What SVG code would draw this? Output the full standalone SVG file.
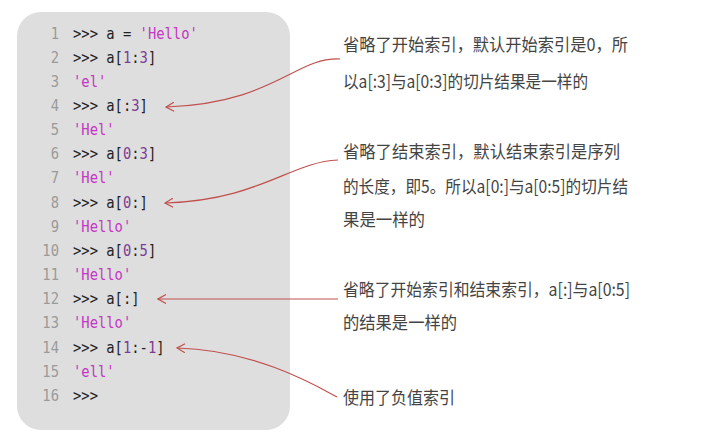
<svg xmlns="http://www.w3.org/2000/svg" width="726" height="440" viewBox="0 0 726 440">
<defs>
<style>
.code{font-family:"DejaVu Sans Mono","Liberation Mono",monospace;font-size:16px;fill:#222}
.ln{fill:#9a9a9a;text-anchor:end}
.s{fill:#c436c4}
.n{fill:#7a3d94}
.note{font-family:"Noto Sans CJK SC","Noto Sans",sans-serif;font-size:17.5px;fill:#444}
.conn{fill:none;stroke:#c0504d;stroke-width:1.2}
</style>
<marker id="arr" viewBox="0 0 10 10" refX="9" refY="5" markerWidth="10" markerHeight="10" markerUnits="userSpaceOnUse" orient="auto">
<path d="M1,0.5 L9,5 L1,9.5" fill="none" stroke="#c0504d" stroke-width="1.2"/>
</marker>
</defs>
<rect width="726" height="440" fill="#ffffff"/>
<g id="code-panel">
<rect x="17" y="12" width="273" height="418" rx="24" ry="24" fill="#dedede"/>
<g transform="matrix(0.865,0,0,1,0,0)">
<text class="code ln" x="68.2" y="39">1</text>
<text class="code" x="84.4" y="39">&gt;&gt;&gt; a = <tspan class="s">'Hello'</tspan></text>
<text class="code ln" x="68.2" y="63">2</text>
<text class="code" x="84.4" y="63">&gt;&gt;&gt; a[<tspan class="n">1</tspan>:<tspan class="n">3</tspan>]</text>
<text class="code ln" x="68.2" y="87">3</text>
<text class="code s" x="84.4" y="87">'el'</text>
<text class="code ln" x="68.2" y="111">4</text>
<text class="code" x="84.4" y="111">&gt;&gt;&gt; a[:<tspan class="n">3</tspan>]</text>
<text class="code ln" x="68.2" y="135">5</text>
<text class="code s" x="84.4" y="135">'Hel'</text>
<text class="code ln" x="68.2" y="159">6</text>
<text class="code" x="84.4" y="159">&gt;&gt;&gt; a[<tspan class="n">0</tspan>:<tspan class="n">3</tspan>]</text>
<text class="code ln" x="68.2" y="183">7</text>
<text class="code s" x="84.4" y="183">'Hel'</text>
<text class="code ln" x="68.2" y="208">8</text>
<text class="code" x="84.4" y="208">&gt;&gt;&gt; a[<tspan class="n">0</tspan>:]</text>
<text class="code ln" x="68.2" y="232">9</text>
<text class="code s" x="84.4" y="232">'Hello'</text>
<text class="code ln" x="68.2" y="256">10</text>
<text class="code" x="84.4" y="256">&gt;&gt;&gt; a[<tspan class="n">0</tspan>:<tspan class="n">5</tspan>]</text>
<text class="code ln" x="68.2" y="280">11</text>
<text class="code s" x="84.4" y="280">'Hello'</text>
<text class="code ln" x="68.2" y="304">12</text>
<text class="code" x="84.4" y="304">&gt;&gt;&gt; a[:]</text>
<text class="code ln" x="68.2" y="328">13</text>
<text class="code s" x="84.4" y="328">'Hello'</text>
<text class="code ln" x="68.2" y="353">14</text>
<text class="code" x="84.4" y="353">&gt;&gt;&gt; a[<tspan class="n">1</tspan>:-<tspan class="n">1</tspan>]</text>
<text class="code ln" x="68.2" y="377">15</text>
<text class="code s" x="84.4" y="377">'ell'</text>
<text class="code ln" x="68.2" y="401">16</text>
<text class="code" x="84.4" y="401">&gt;&gt;&gt;</text>
</g>
</g>
<g id="note1">
<text class="note" x="343" y="51" textLength="285" lengthAdjust="spacingAndGlyphs">省略了开始索引，默认开始索引是0，所</text>
<text class="note" x="343" y="88" textLength="245" lengthAdjust="spacingAndGlyphs">以a[:3]与a[0:3]的切片结果是一样的</text>
</g>
<g id="note2">
<text class="note" x="343" y="158" textLength="277" lengthAdjust="spacingAndGlyphs">省略了结束索引，默认结束索引是序列</text>
<text class="note" x="343" y="193" textLength="285" lengthAdjust="spacingAndGlyphs">的长度，即5。所以a[0:]与a[0:5]的切片结</text>
<text class="note" x="343" y="226" textLength="82" lengthAdjust="spacingAndGlyphs">果是一样的</text>
</g>
<g id="note3">
<text class="note" x="343" y="296" textLength="287" lengthAdjust="spacingAndGlyphs">省略了开始索引和结束索引，a[:]与a[0:5]</text>
<text class="note" x="343" y="329" textLength="114" lengthAdjust="spacingAndGlyphs">的结果是一样的</text>
</g>
<g id="note4">
<text class="note" x="343" y="404" textLength="112" lengthAdjust="spacingAndGlyphs">使用了负值索引</text>
</g>
<g id="connectors">
<path class="conn" d="M340,59 C295,57 275,103 166,107" marker-end="url(#arr)"/>
<path class="conn" d="M338,160 C290,162 260,200 165,203" marker-end="url(#arr)"/>
<path class="conn" d="M338,299 L158,299" marker-end="url(#arr)"/>
<path class="conn" d="M337,397 C315,385 255,350 177,348" marker-end="url(#arr)"/>
</g>
</svg>
